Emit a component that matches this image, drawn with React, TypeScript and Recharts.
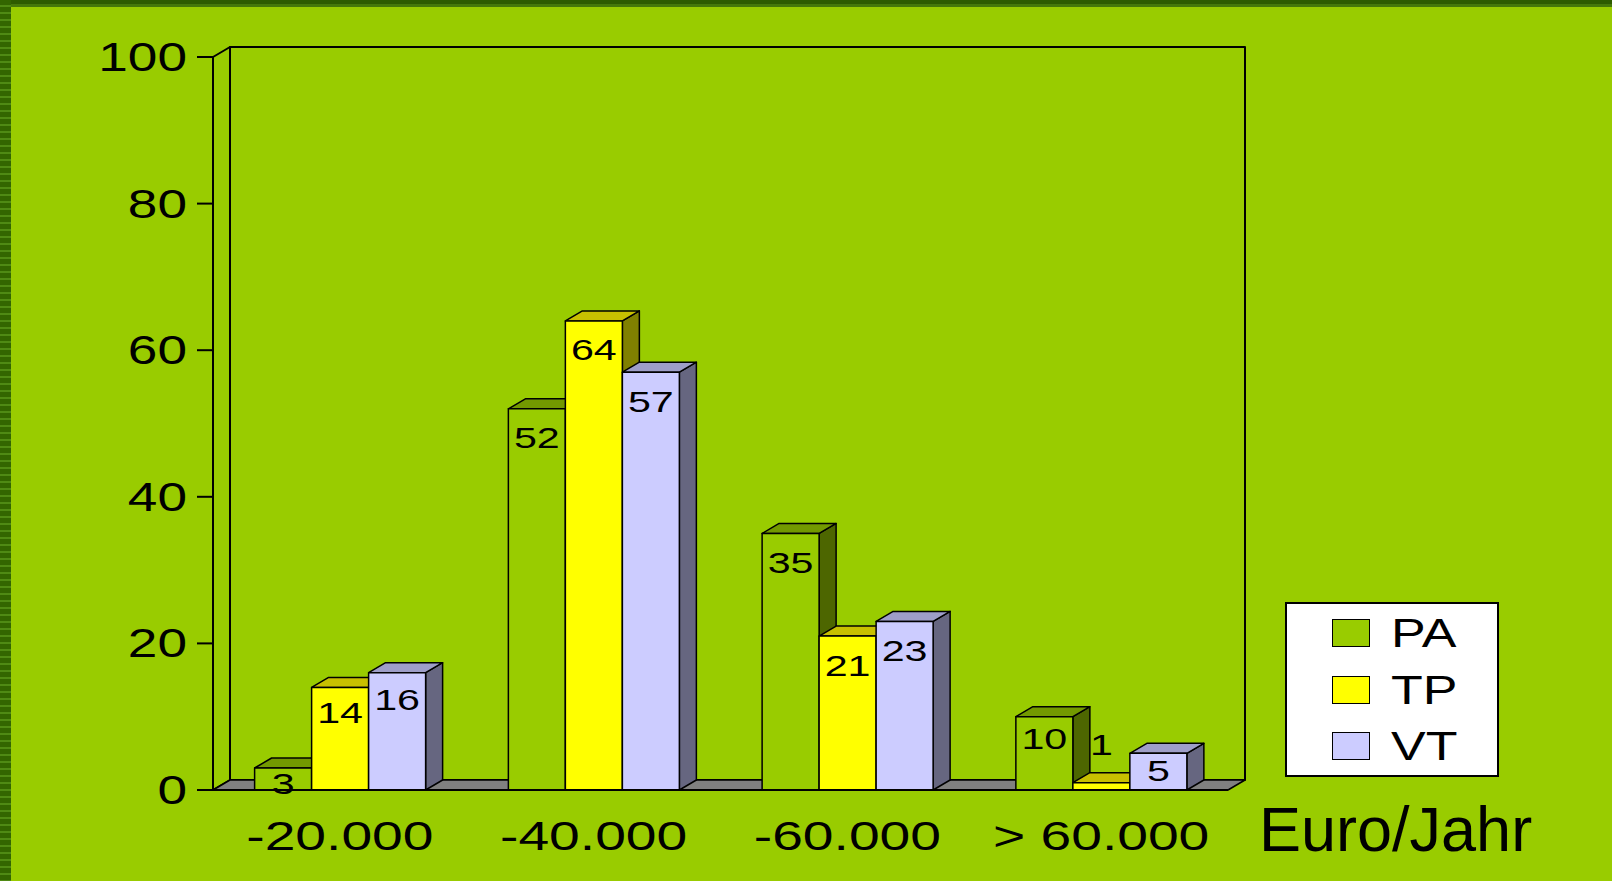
import React from 'react';
import { BarChart, Bar, XAxis, YAxis, ReferenceArea, LabelList, Legend, Label } from 'recharts';

const categories = ['-20.000', '-40.000', '-60.000', '> 60.000'];
const paValues = [3, 52, 35, 10];
const tpValues = [14, 64, 21, 1];
const vtValues = [16, 57, 23, 5];
const yTicks = [0, 20, 40, 60, 80, 100];
const boundaryTicks = [0, 1, 2, 3, 4];
const seriesNames = ['PA', 'TP', 'VT'];

const data = categories.map((cat, i) => ({ cat, PA: paValues[i], TP: tpValues[i], VT: vtValues[i] }));

const FONT = '"Liberation Sans", Arial, sans-serif';
const BG = '#99CC00';
// 3D depth offset of the walls and bars
const DX = 17;
const DY = -10;

const colors: Record<string, { front: string; top: string; side: string }> = {
    PA: { front: '#99CC00', top: '#739900', side: '#4D6600' },
    TP: { front: '#FFFF00', top: '#C8C000', side: '#808000' },
    VT: { front: '#CCCCFF', top: '#9E9EC8', side: '#666680' },
};

const bar3d = (c: { front: string; top: string; side: string }) => (props: any) => {
    const { x, y, width, height } = props;
    if (height == null || width == null) return null;
    const r = x + width;
    const b = y + height;
    return (
        <g stroke="#000" strokeWidth={1.5} strokeLinejoin="round">
            <polygon points={`${r},${y} ${r + DX},${y + DY} ${r + DX},${b + DY} ${r},${b}`} fill={c.side} />
            <polygon points={`${x},${y} ${x + DX},${y + DY} ${r + DX},${y + DY} ${r},${y}`} fill={c.top} />
            <rect x={x} y={y} width={width} height={height} fill={c.front} />
        </g>
    );
};

// back wall, left wall and floor of the 3D box
const Walls = (props: any) => {
    const { x, y, width, height } = props;
    const r = x + width;
    const b = y + height;
    return (
        <g stroke="#000" strokeLinejoin="round">
            <rect x={x + DX} y={y + DY} width={width} height={height} fill={BG} strokeWidth={2} />
            <polygon points={`${x},${y} ${x + DX},${y + DY} ${x + DX},${b + DY} ${x},${b}`} fill={BG} strokeWidth={2} />
            <polygon points={`${x},${b} ${x + DX},${b + DY} ${r + DX},${b + DY} ${r},${b}`} fill="#808080" strokeWidth={1.5} />
        </g>
    );
};

const ValueLabel = (props: any) => {
    const vb = props.viewBox ?? props;
    const x = Number(vb.x ?? props.x);
    const y = Number(vb.y ?? props.y);
    const w = Number(vb.width ?? props.width);
    const h = Number(vb.height ?? props.height);
    // Excel-like placement: inside near the top, above for very short bars
    const off = h < 15 ? -38 : Math.min(29, 13 + 0.12 * h);
    return (
        <g transform={`translate(${x + w / 2},${y + off + 10.5}) scale(1.42,1)`}>
            <text x={0} y={0} textAnchor="middle" fontSize={29} fontFamily={FONT} fill="#000">{props.value}</text>
        </g>
    );
};

const YTick = ({ x, y, payload }: any) => (
    <g transform={`translate(${x - 8},${y + 14}) scale(1.33,1)`}>
        <text x={0} y={0} textAnchor="end" fontSize={40} fontFamily={FONT} fill="#000">{payload.value}</text>
    </g>
);

const XTick = ({ x, y, payload }: any) => (
    <g transform={`translate(${x},${y + 60}) scale(1.38,1)`}>
        <text x={0} y={0} textAnchor="middle" fontSize={40} fontFamily={FONT} fill="#000">{payload.value}</text>
    </g>
);

const AxisTitle = (props: any) => {
    const vb = props.viewBox || {};
    return (
        <text x={vb.x + vb.width + 31} y={vb.y + 61} fontSize={63} fontFamily={FONT} fill="#000">Euro/Jahr</text>
    );
};

const LegendBox = () => (
    <div style={{ width: 214, height: 175, boxSizing: 'border-box', border: '2px solid #000', background: '#fff', position: 'relative' }}>
        {seriesNames.map((n, i) => (
            <div key={n} style={{ position: 'absolute', left: 45, top: 15 + i * 56.5, height: 28, display: 'flex', alignItems: 'center' }}>
                <div style={{ width: 38, height: 28, boxSizing: 'border-box', border: '1.5px solid #000', background: colors[n].front }} />
                <span style={{ display: 'inline-block', marginLeft: 21, fontSize: 40, lineHeight: '28px', fontFamily: FONT, color: '#000', transform: 'scaleX(1.3)', transformOrigin: 'left center' }}>{n}</span>
            </div>
        ))}
    </div>
);

export default function App() {
    return (
        <div style={{ position: 'fixed', left: 0, top: 0, width: 1612, height: 881, background: BG, overflow: 'hidden' }}>
            <BarChart
                width={1612}
                height={881}
                data={data}
                margin={{ top: 57, right: 384, bottom: 31, left: 133 }}
                barCategoryGap="16.4%"
                barGap={0}
                style={{ fontFamily: FONT }}
            >
                <XAxis
                    xAxisId="grid"
                    type="number"
                    domain={[0, 4]}
                    ticks={boundaryTicks}
                    height={0}
                    axisLine={false}
                    tickSize={12}
                    tickLine={{ stroke: '#000', strokeWidth: 2 }}
                    tick={() => <g />}
                />
                <XAxis
                    dataKey="cat"
                    height={60}
                    tickLine={false}
                    tickSize={0}
                    tickMargin={0}
                    axisLine={{ stroke: '#000', strokeWidth: 2 }}
                    tick={XTick}
                    interval={0}
                >
                    <Label content={AxisTitle} />
                </XAxis>
                <YAxis
                    width={80}
                    domain={[0, 100]}
                    ticks={yTicks}
                    tickSize={16}
                    tickLine={{ stroke: '#000', strokeWidth: 2 }}
                    axisLine={{ stroke: '#000', strokeWidth: 2 }}
                    tick={YTick}
                />
                <ReferenceArea y1={0} y2={100} shape={Walls} ifOverflow="visible" />
                <Legend
                    content={LegendBox}
                    layout="horizontal"
                    verticalAlign="middle"
                    align="center"
                    wrapperStyle={{ position: 'absolute', left: 1285, top: 602, width: 214, height: 175 }}
                />
                {seriesNames.map((n) => (
                    <Bar key={n} dataKey={n} fill={colors[n].front} shape={bar3d(colors[n])} isAnimationActive={false}>
                        <LabelList dataKey={n} content={ValueLabel} />
                    </Bar>
                ))}
            </BarChart>
            <div style={{ position: 'absolute', left: 0, top: 0, width: 1612, height: 7, background: 'linear-gradient(to bottom, #2E5C00 0px, #2E5C00 4px, #45780A 4px, #45780A 7px)' }} />
            <div style={{ position: 'absolute', left: 0, top: 0, width: 11, height: 881, background: 'repeating-linear-gradient(to bottom, #336600 0px, #336600 5px, #4F8A14 5px, #4F8A14 7px)' }} />
        </div>
    );
}
